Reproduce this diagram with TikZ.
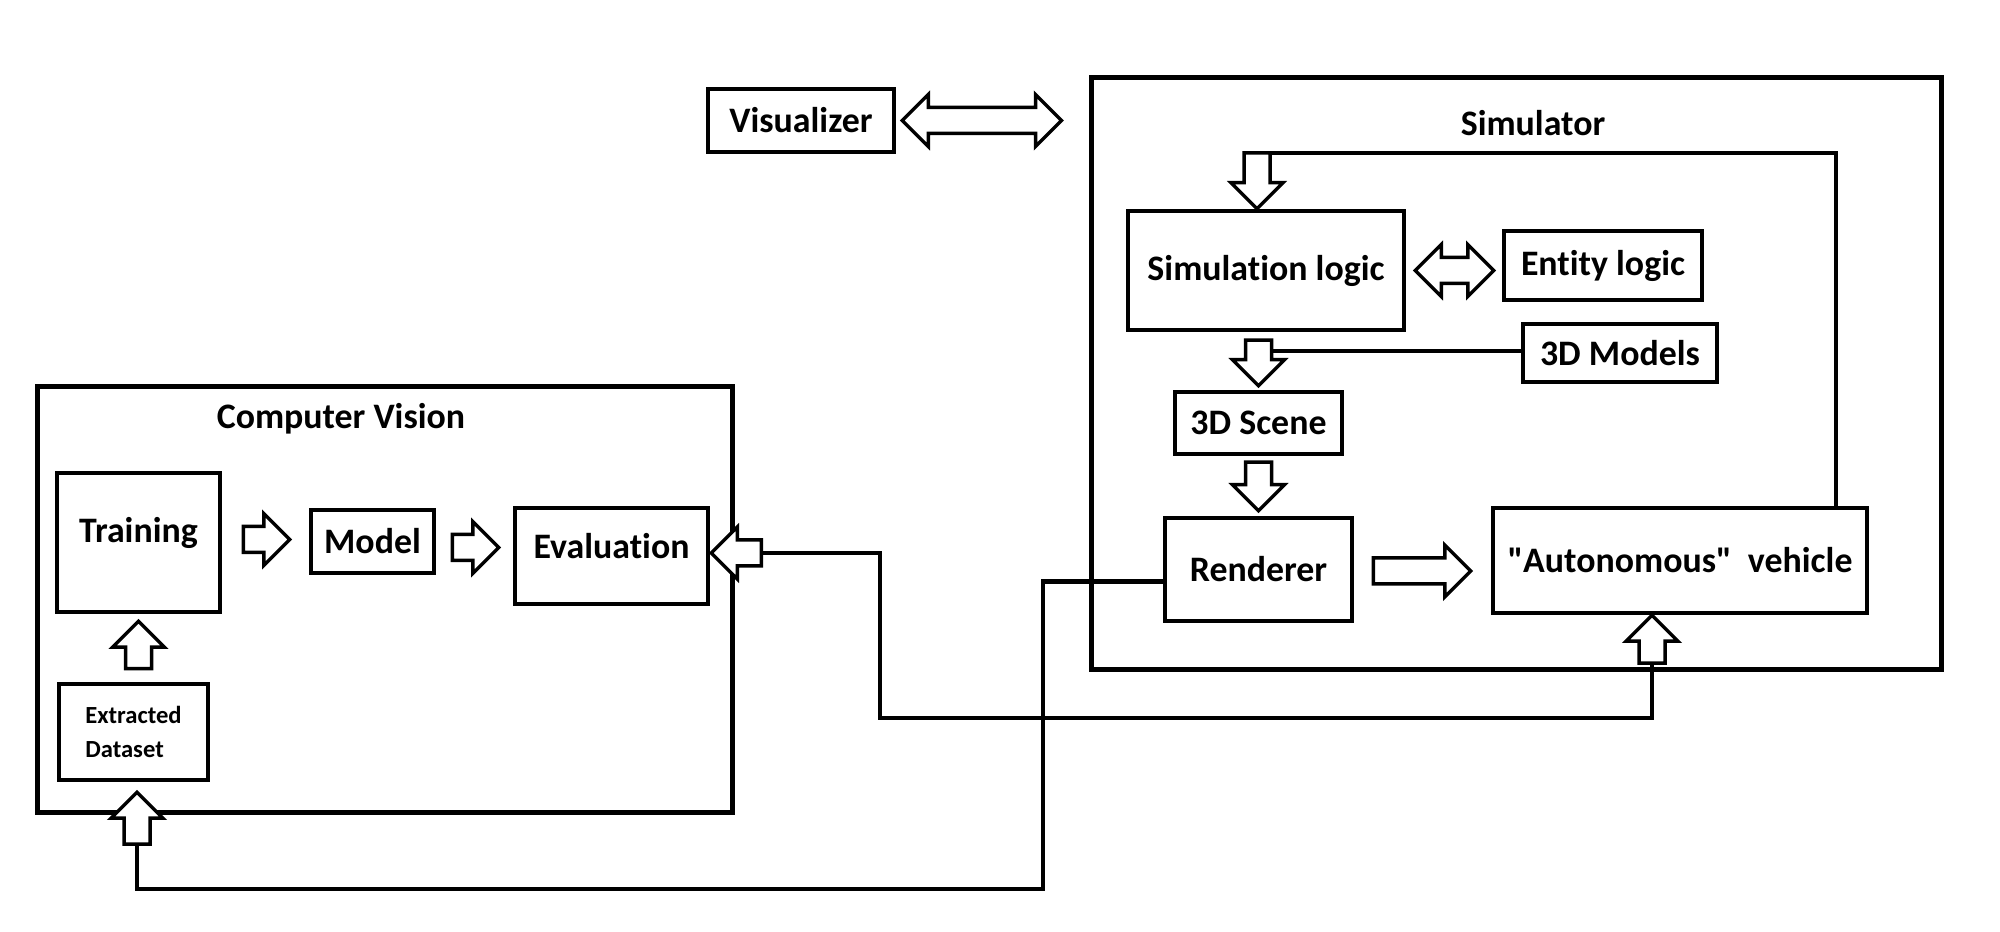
\documentclass[tikz,border=0pt]{standalone}
\usepackage{fontspec}
\setmainfont{Carlito}[Ligatures={TeX,NoCommon}]
\usetikzlibrary{calc}
\def\shw{1.3mm}
\def\hdw{2.6mm}
\def\hdl{2.6mm}
\def\sq{\XeTeXglyph\XeTeXcharglyph"22\relax}
\def\blockarrow(#1)(#2){\coordinate (ba-h) at ($(#2)!\hdl!(#1)$);
	\draw[barrow] ($(#1)!\shw!90:(#2)$) -- ($(ba-h)!\shw!-90:(#1)$) -- ($(ba-h)!\hdw!-90:(#1)$) -- (#2) -- ($(ba-h)!\hdw!90:(#1)$) -- ($(ba-h)!\shw!90:(#1)$) -- ($(#1)!\shw!-90:(#2)$) -- cycle;}
\def\dblockarrow(#1)(#2){\coordinate (ba-a) at ($(#1)!\hdl!(#2)$); \coordinate (ba-b) at ($(#2)!\hdl!(#1)$);
	\draw[barrow] (#1) -- ($(ba-a)!\hdw!90:(#2)$) -- ($(ba-a)!\shw!90:(#2)$) -- ($(ba-b)!\shw!-90:(#1)$) -- ($(ba-b)!\hdw!-90:(#1)$) -- (#2) -- ($(ba-b)!\hdw!90:(#1)$) -- ($(ba-b)!\shw!90:(#1)$) -- ($(ba-a)!\shw!-90:(#2)$) -- ($(ba-a)!\hdw!-90:(#2)$) -- cycle;}

\begin{document}
\begin{tikzpicture}[x=0.1mm, y=-0.1mm,
		blockbox/.style={draw, line width=0.45mm, inner sep=1pt, font=\bfseries\fontsize{10.2pt}{12pt}\selectfont},
		container/.style={draw, line width=0.5mm},
		grouptitle/.style={font=\bfseries\fontsize{10.2pt}{12pt}\selectfont},
		wire/.style={line width=0.45mm},
		barrow/.style={line width=0.35mm, line join=miter, fill=white}]
			%%%%% START %%%%%
			\useasboundingbox (0, 0) rectangle (2000, 932);
			
			\node[container, minimum width=85mm, minimum height=59.2mm] (sim) at (1516, 374) {};
			\node[grouptitle] (simtitle) at (1533, 123) {Simulator};
			\node[container, minimum width=69.6mm, minimum height=42.6mm] (cv) at (385, 600) {};
			\node[grouptitle] (cvtitle) at (341, 419) {Computer Vision};
			
			\node[blockbox, minimum width=18.6mm, minimum height=6.3mm] (vis) at (801, 120.5) {Visualizer};
			\node[blockbox, minimum width=27.6mm, minimum height=11.9mm] (simlogic) at (1266, 270.5) {Simulation logic};
			\node[blockbox, minimum width=19.8mm, minimum height=6.9mm] (entity) at (1603, 265.5) {Entity logic};
			\node[blockbox, minimum width=19.4mm, minimum height=5.8mm] (models) at (1620, 353) {3D Models};
			\node[blockbox, minimum width=16.7mm, minimum height=6.2mm] (scene) at (1258.5, 423) {3D Scene};
			\node[blockbox, minimum width=18.7mm, minimum height=10.3mm] (render) at (1258.5, 569.5) {Renderer};
			\node[blockbox, minimum width=37.4mm, minimum height=10.5mm] (av) at (1680, 560.5) {\sq Autonomous\sq\ \ vehicle};
			
			\node[blockbox, minimum width=16.3mm, minimum height=13.9mm, text depth=2.5mm] (train) at (138.5, 542.5) {Training};
			\node[blockbox, minimum width=12.3mm, minimum height=6.3mm] (model) at (372.5, 541.5) {Model};
			\node[blockbox, minimum width=19.3mm, minimum height=9.6mm, text depth=2mm] (eval) at (611.5, 556) {Evaluation};
			\node[blockbox, minimum width=14.9mm, minimum height=9.6mm, align=left, font=\bfseries\fontsize{7pt}{9.6pt}\selectfont] (data) at (133.5, 732) {Extracted\\Dataset};
			
			% visualizer <-> simulator
			\coordinate (v1) at ($(vis.east)+(6,0)$);
			\coordinate (v2) at ($(vis.east -| sim.west)+(-27,0)$);
			\dblockarrow(v1)(v2)
			
			% simulation logic <-> entity logic
			\coordinate (e1) at ($(simlogic.east)+(9,0)$);
			\coordinate (e2) at ($(simlogic.east -| entity.west)+(-8,0)$);
			\dblockarrow(e1)(e2)
			
			% loop from the vehicle back
			\coordinate (fbr) at (1836, 153);
			\coordinate (fbl) at (1257, 153);
			\coordinate (s1) at (simlogic.north -| fbl);
			\draw[wire] (av.north -| fbr) -- (fbr) -- (fbl);
			\blockarrow(fbl)(s1)
			
			\coordinate (d1) at ($(simlogic.south -| scene.north)+(0,8)$);
			\coordinate (d2) at ($(scene.north)+(0,-4)$);
			\coordinate (m1) at ($(models.west -| scene.north)+(13,-2)$);
			\draw[wire] (models.west |- m1) -- (m1);
			\blockarrow(d1)(d2)
			
			\coordinate (r1) at ($(scene.south)+(0,6)$);
			\coordinate (r2) at ($(render.north)+(0,-5)$);
			\blockarrow(r1)(r2)
			
			\coordinate (a1) at ($(render.east)+(19,1.5)$);
			\coordinate (a2) at ($(render.east -| av.west)+(-20,1.5)$);
			\blockarrow(a1)(a2)
			
			% computer vision
			\coordinate (t1) at ($(train.east)+(21,-3)$);
			\coordinate (t2) at ($(train.east -| model.west)+(-19,-3)$);
			\blockarrow(t1)(t2)
			\coordinate (k1) at ($(model.east)+(16,6)$);
			\coordinate (k2) at ($(model.east -| eval.west)+(-14,6)$);
			\blockarrow(k1)(k2)
			\coordinate (u1) at ($(data.north -| train.south)+(0,-13)$);
			\coordinate (u2) at ($(train.south)+(0,7)$);
			\blockarrow(u1)(u2)
			
			% renderer -> dataset
			\coordinate (rw) at ($(render.west)+(0,12)$);
			\coordinate (bot) at (1043, 889);
			\coordinate (dt1) at ($(data.south)+(3.5,62)$);
			\coordinate (dt2) at ($(data.south)+(3.5,10)$);
			\draw[wire] (rw) -| (bot) -| (dt1);
			\blockarrow(dt1)(dt2)
			
			% vehicle -> evaluation
			\coordinate (av1) at ($(av.south)+(-28,48)$);
			\coordinate (av2) at ($(av.south)+(-28,0)$);
			\coordinate (low) at (880, 718);
			\coordinate (ev1) at ($(eval.east)+(51,-3)$);
			\coordinate (ev2) at ($(eval.east)+(1,-3)$);
			\draw[wire] (av1) |- (low) |- (ev1);
			\blockarrow(av1)(av2)
			\blockarrow(ev1)(ev2)
			
			%%%%% END %%%%%
\end{tikzpicture}
\end{document}
